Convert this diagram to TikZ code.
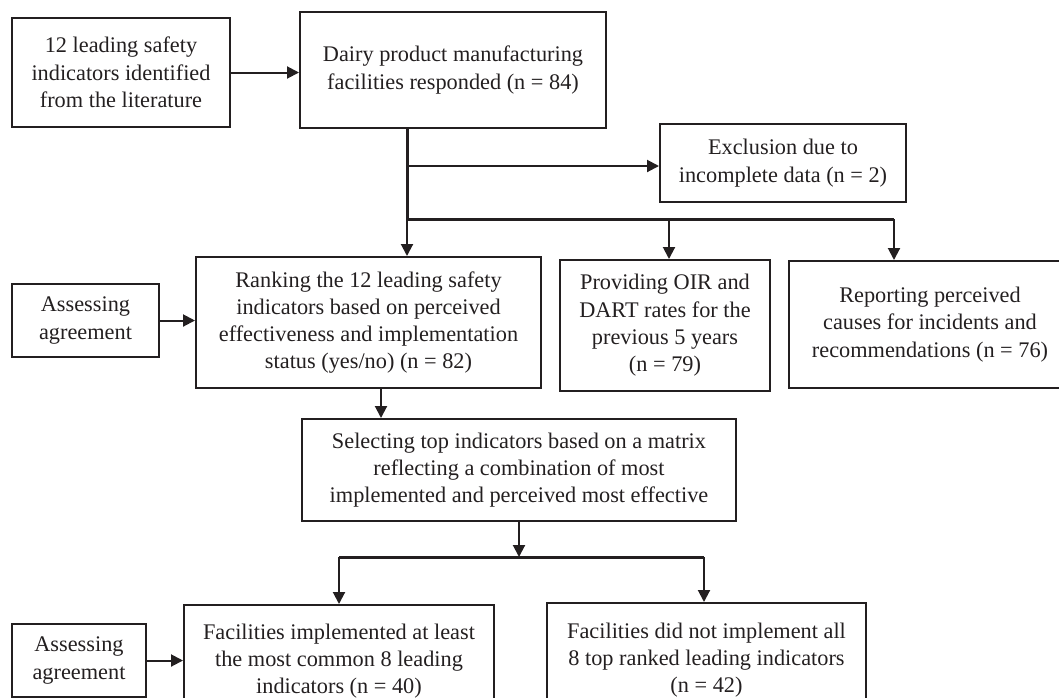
\documentclass[tikz,border=0pt]{standalone}
\usepackage{fontspec}
\setmainfont{Liberation Serif}
\usetikzlibrary{arrows.meta}
\definecolor{ink}{HTML}{231F20}
\tikzset{
  box/.style={draw=ink, line width=2pt, align=center, inner sep=0pt, text=ink,
    font=\fontsize{22.3}{27.3}\selectfont},
  arr/.style={draw=ink, line width=2pt, -{Triangle[length=12pt,width=12pt]}},
  busline/.style={draw=ink, line width=3pt},
}
\begin{document}
\begin{tikzpicture}[x=1pt,y=-1pt]
\useasboundingbox (0,0) rectangle (1059,697);
% boxes
\node[box, minimum width=218pt, minimum height=109pt] (A) at (121,72.5)
  {12 leading safety\\indicators identified\\from the literature};
\node[box, minimum width=306pt, minimum height=116pt] (B) at (453,70)
  {Dairy product manufacturing\\facilities responded (n = 84)};
\node[box, minimum width=246pt, minimum height=78pt] (Excl) at (783,163)
  {Exclusion due to\\incomplete data (n = 2)};
\node[box, minimum width=345pt, minimum height=131pt] (Rank) at (368.5,322.5)
  {Ranking the 12 leading safety\\indicators based on perceived\\effectiveness and implementation\\status (yes/no) (n = 82)};
\node[box, minimum width=210pt, minimum height=131pt] (OIR) at (665,325.5)
  {Providing OIR and\\DART rates for the\\previous 5 years\\(n = 79)};
\node[box, minimum width=282pt, minimum height=127pt] (Rep) at (930,324.5)
  {Reporting perceived\\causes for incidents and\\recommendations (n = 76)};
\node[box, minimum width=147pt, minimum height=73pt] (As1) at (85.5,320.5)
  {Assessing\\agreement};
\node[box, minimum width=434pt, minimum height=102pt] (Sel) at (519,470)
  {Selecting top indicators based on a matrix\\reflecting a combination of most\\implemented and perceived most effective};
\node[box, minimum width=134pt, minimum height=73pt] (As2) at (79,660.5)
  {Assessing\\agreement};
\node[box, minimum width=310pt, minimum height=112pt] (BL) at (339,661)
  {Facilities implemented at least\\the most common 8 leading\\indicators (n = 40)};
\node[box, minimum width=319pt, minimum height=114pt] (BR) at (706.5,660)
  {Facilities did not implement all\\8 top ranked leading indicators\\(n = 42)};
% junction coordinates
\coordinate (bus1) at (407,219);
\coordinate (bus1e) at (894,219);
\coordinate (r2s) at (381,388);
\coordinate (bus2) at (339,557);
\coordinate (bus2e) at (704,557);
% connectors
\draw[arr] (A.east) -- (A.east -| B.west);
\draw[busline] (bus1 |- B.south) -- (bus1);
\draw[arr] (bus1 |- Excl.west) ++(0,3) -- (Excl.west |- 0,166);
\draw[busline] (bus1) -- (bus1e);
\draw[arr] (bus1) -- (bus1 |- Rank.north);
\draw[arr] (bus1 -| 669,0) -- (669,0 |- OIR.north);
\draw[arr] (bus1e) -- (bus1e |- Rep.north);
\draw[arr] (As1.east) -- (As1.east -| Rank.west);
\draw[arr] (r2s) -- (r2s |- Sel.north);
\draw[arr] (Sel.south) -- (Sel.south |- bus2);
\draw[busline] (bus2) -- (bus2e);
\draw[arr] (bus2) -- (bus2 |- BL.north);
\draw[arr] (bus2e) -- (bus2e |- BR.north);
\draw[arr] (As2.east) -- (As2.east -| BL.west);
\end{tikzpicture}
\end{document}
